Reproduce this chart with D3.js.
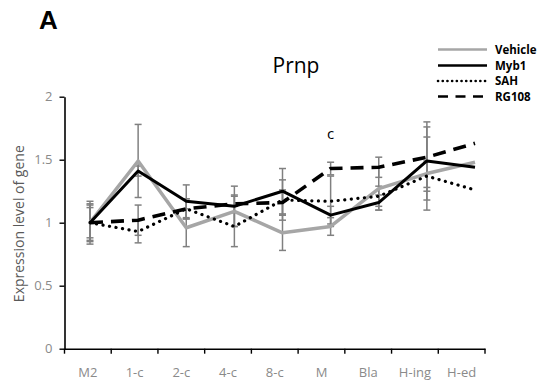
<!DOCTYPE html>
<html><head><meta charset="utf-8">
<script src="https://cdn.jsdelivr.net/npm/d3@7"></script>
<style>body{margin:0;background:#fff}svg{display:block}</style>
</head><body>
<svg id="c" width="538" height="386"></svg>
<script>
const categories = ["M2","1-c","2-c","4-c","8-c","M","Bla","H-ing","H-ed"];
const seriesNames = ["Vehicle","Myb1","SAH","RG108"];
const vehicle = [1.00,1.49,0.96,1.09,0.92,0.97,1.27,1.39,1.48];
const myb1    = [1.00,1.41,1.17,1.13,1.25,1.06,1.16,1.49,1.44];
const sah     = [1.00,0.93,1.11,0.97,1.18,1.17,1.21,1.37,1.26];
const rg108   = [1.00,1.02,1.11,1.15,1.16,1.43,1.44,1.52,1.63];
const vehicleErr = [0.17,0.29,0.15,0.12,0.14,0.07,0.17,0.29,0];
const myb1Err    = [0.14,0.04,0.13,0.16,0.18,0.07,0.06,0.31,0];
const sahErr     = [0.12,0.09,0.08,0.16,0.16,0.20,0.08,0.12,0];
const rg108Err   = [0.15,0.12,0.08,0.07,0.10,0.05,0.08,0.24,0];
const yTicks = [0,0.5,1,1.5,2];
const annotation = {cat:"M", text:"c"};

const svg = d3.select("#c");
const x = d3.scaleBand().domain(categories).range([64.5,485]).padding(0);
const xp = d3.scalePoint().domain(categories).range([90,475]);
const y = d3.scaleLinear().domain([0,2]).range([348.7,96.7]);

const gray = "#8a8a8a";
const font = "'Open Sans','Noto Sans',sans-serif";

// panel label
svg.append("text").attr("x",39).attr("y",29).text("A")
  .attr("font-family","'Liberation Sans',Arial,sans-serif").attr("font-weight","bold")
  .attr("font-size",26).attr("fill","#000");

// title
svg.append("text").attr("x",296).attr("y",73).attr("text-anchor","middle").text("Prnp")
  .attr("font-family",font).attr("font-size",21).attr("fill","#000");

// y axis
const ya = svg.append("g").attr("transform","translate(64.5,0)")
  .call(d3.axisLeft(y).tickValues(yTicks).tickSize(5).tickSizeOuter(0).tickPadding(7).tickFormat(d=>String(d)));
ya.select(".domain").attr("stroke","#000").attr("stroke-width",1.6);
ya.selectAll(".tick line").attr("stroke","#000").attr("stroke-width",1.4);
ya.selectAll(".tick text").attr("font-family",font).attr("font-size",13).attr("fill",gray);

// x axis
const xa = svg.append("g").attr("transform",`translate(0,${y(0)})`)
  .call(d3.axisBottom(x).tickSize(0).tickPadding(19));
xa.select(".domain").attr("stroke","#000").attr("stroke-width",1.6);
xa.selectAll(".tick text").attr("font-family",font).attr("font-size",13).attr("fill",gray);
const bounds = categories.map(c=>x(c)).concat([x(categories[categories.length-1])+x.bandwidth()]);
xa.selectAll(".bt").data(bounds).enter().append("line")
  .attr("x1",d=>d).attr("x2",d=>d).attr("y1",0).attr("y2",5)
  .attr("stroke","#000").attr("stroke-width",1.4);

// y label
svg.append("text").attr("transform",`translate(24,${(y(0)+y(2))/2+1}) rotate(-90)`)
  .attr("text-anchor","middle").text("Expression level of gene")
  .attr("font-family",font).attr("font-size",14).attr("fill","#595959");

const series = [
  {name:"Vehicle", v:vehicle, e:vehicleErr, stroke:"#a6a6a6", w:3.5, dash:null, cap:"butt"},
  {name:"Myb1", v:myb1, e:myb1Err, stroke:"#000", w:3, dash:null, cap:"butt"},
  {name:"SAH", v:sah, e:sahErr, stroke:"#000", w:3.2, dash:"0.1,6.5", cap:"round"},
  {name:"RG108", v:rg108, e:rg108Err, stroke:"#000", w:3.6, dash:"13,8", cap:"butt"}
];

// error bars
const eg = svg.append("g");
series.forEach(s=>{
  categories.forEach((c,i)=>{
    if(!s.e[i]) return;
    const cx = xp(c), y1 = y(s.v[i]+s.e[i]), y2 = y(s.v[i]-s.e[i]);
    eg.append("line").attr("x1",cx).attr("x2",cx).attr("y1",y1).attr("y2",y2)
      .attr("stroke","#808080").attr("stroke-width",1.5);
    [y1,y2].forEach(yy=>eg.append("line").attr("x1",cx-3.5).attr("x2",cx+3.5).attr("y1",yy).attr("y2",yy)
      .attr("stroke","#808080").attr("stroke-width",1.5));
  });
});

// lines
const line = d3.line().x((d,i)=>xp(categories[i])).y(d=>y(d));
series.forEach(s=>{
  const p = svg.append("path").datum(s.v).attr("d",line).attr("fill","none")
    .attr("stroke",s.stroke).attr("stroke-width",s.w).attr("stroke-linecap",s.cap)
    .attr("stroke-linejoin","round");
  if(s.dash) p.attr("stroke-dasharray",s.dash);
});

// annotation
svg.append("text").attr("x",xp(annotation.cat)).attr("y",139).attr("text-anchor","middle")
  .text(annotation.text).attr("font-family",font).attr("font-size",15).attr("fill","#000");

// legend
const lg = svg.append("g");
const ly = [49.5,65.5,81,96.5];
series.forEach((s,i)=>{
  const l = lg.append("line").attr("x1",438).attr("x2",487).attr("y1",ly[i]).attr("y2",ly[i])
    .attr("stroke",s.stroke).attr("stroke-width",2.6)
    .attr("stroke-linecap",s.cap);
  if(s.name==="SAH") l.attr("stroke-dasharray","0.1,4.6");
  if(s.name==="RG108") l.attr("stroke-dasharray","10,7.5");
  lg.append("text").attr("x",495).attr("y",ly[i]+4).text(s.name)
    .attr("font-family",font).attr("font-weight","bold").attr("font-size",11.5).attr("fill","#000");
});
</script>
</body></html>
